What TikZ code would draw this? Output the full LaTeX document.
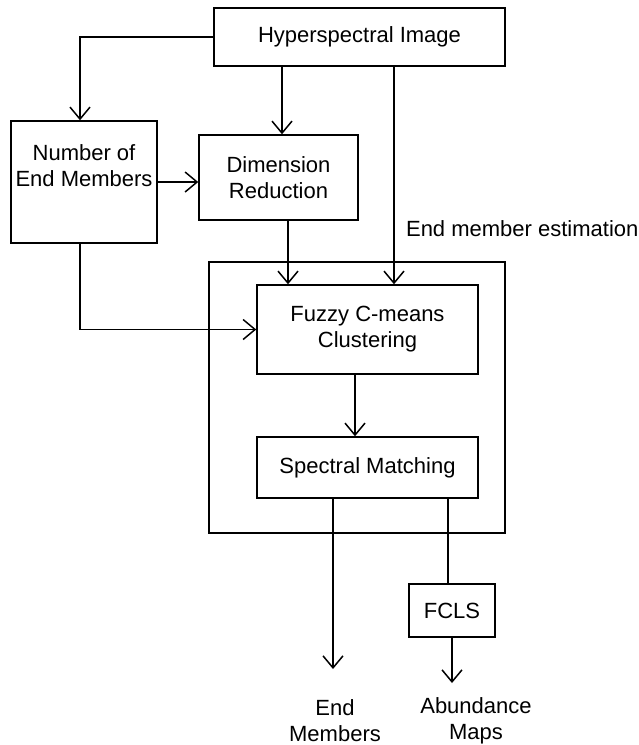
\documentclass[tikz,border=0pt]{standalone}
\usepackage{fontspec}
\setmainfont{Liberation Sans}
\usetikzlibrary{arrows.meta}

\begin{document}
\begin{tikzpicture}[x=1pt,y=-1pt,line width=1.5pt,
	font=\fontsize{22}{26}\selectfont,
	box/.style={draw,align=center,inner sep=2pt},
	arr/.style={-{Straight Barb[length=12pt,width=20pt]}}]
		\useasboundingbox (0,0) rectangle (639,745);
		% blocks
		\node[box,minimum width=291pt,minimum height=58pt] (hsi) at (359.5,37) {Hyperspectral Image};
		\node[box,minimum width=146pt,minimum height=122pt] (nem) at (84,182) {};
		\node[align=center] (nemtext) at ([yshift=16pt]nem.center) {Number of\\End Members};
		\node[box,minimum width=159pt,minimum height=85pt] (dimred) at (278.5,177.5) {Dimension\\Reduction};
		\node[box,minimum width=296pt,minimum height=271pt] (est) at (357,397.5) {};
		\node[anchor=west] (estlabel) at (402,229) {End member estimation};
		\node[box,minimum width=221pt,minimum height=89pt] (fcm) at (367.5,329.5) {Fuzzy C-means\\Clustering};
		\node[box,minimum width=221pt,minimum height=61pt] (spm) at (367.5,467.5) {Spectral Matching};
		\node[box,minimum width=86pt,minimum height=53pt] (fcls) at (452,610.5) {FCLS};
		\node[align=center] (endm) at (335,721) {End\\Members};
		\node[align=center] (abmaps) at (476,721) {Abundance\\Maps};
		\coordinate (endmtip) at (333,669);
		\coordinate (abtip) at (452,683);
		% connectors
		\draw[arr] (hsi.west) -| ([xshift=-4pt]nem.north);
		\draw[arr] ([xshift=-77.5pt]hsi.south) -- ([xshift=-77.5pt]hsi.south |- dimred.north);
		\draw[arr] ([xshift=34.5pt]hsi.south) -- ([xshift=34.5pt]hsi.south |- fcm.north);
		\draw[arr] (nem.east) -- (nem.east -| dimred.west);
		\draw[arr] ([xshift=9.5pt]dimred.south) -- ([xshift=9.5pt]dimred.south |- fcm.north);
		\draw[arr] ([xshift=-4pt]nem.south) |- (fcm.west);
		\draw[arr] ([xshift=-12.5pt]fcm.south) -- ([xshift=-12.5pt]fcm.south |- spm.north);
		\draw[arr] ([xshift=-34.5pt]spm.south) -- (endmtip);
		\draw ([xshift=80.5pt]spm.south) -- ([xshift=80.5pt]spm.south |- fcls.north);
		\draw[arr] (fcls.south) -- (abtip);
	\end{tikzpicture}
\end{document}
